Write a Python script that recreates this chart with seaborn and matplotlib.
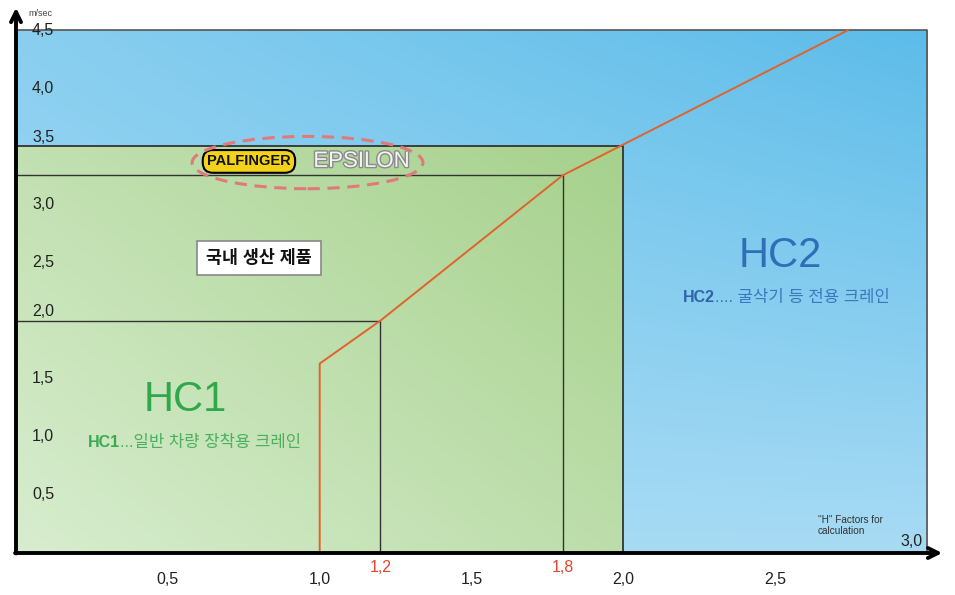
import numpy as np
import matplotlib
matplotlib.use("Agg")
import matplotlib.pyplot as plt
import seaborn as sns
from matplotlib.colors import LinearSegmentedColormap
from matplotlib.patches import Ellipse
import matplotlib.patheffects as pe

# data
x_ticks = [0.5, 1.0, 1.5, 2.0, 2.5, 3.0]
x_tick_labels = ["0,5", "1,0", "1,5", "2,0", "2,5", "3,0"]
y_ticks = [0.5, 1.0, 1.5, 2.0, 2.5, 3.0, 3.5, 4.0, 4.5]
y_tick_labels = ["0,5", "1,0", "1,5", "2,0", "2,5", "3,0", "3,5", "4,0", "4,5"]

hc2_box = (3.0, 4.5)        # whole H-factor field (x max, speed max)
epsilon_box = (2.0, 3.5)    # locally produced range
epsilon_inner = (1.8, 3.25)
hc1_box = (1.2, 2.0)

boundary_x = [1.0, 1.0, 1.2, 1.8, 2.74]
boundary_y = [0.0, 1.63, 2.0, 3.25, 4.5]
marked_x = [1.2, 1.8]
marked_labels = ["1,2", "1,8"]

sns.set_style("white")
plt.rcParams["font.family"] = ["Liberation Sans", "Noto Sans CJK KR", "DejaVu Sans"]

fig = plt.figure(figsize=(9.55, 5.95), dpi=100)
ax = fig.add_axes([16 / 955, 42 / 595, 929 / 955, 548 / 595])


def gradient_rect(x1, y1, c0, c1, z, wx, wy, wxy):
    g = np.linspace(0, 1, 200)
    gx, gy = np.meshgrid(g, g)
    shade = wx * gx + wy * gy + wxy * gx * gy
    cmap = LinearSegmentedColormap.from_list("g", [c0, c1])
    ax.imshow(shade, extent=(0, x1, 0, y1), origin="lower", cmap=cmap, vmin=0, vmax=1,
              aspect="auto", zorder=z, interpolation="bicubic")


gradient_rect(hc2_box[0], hc2_box[1], "#a8dbf4", "#5cbce9", 0, 0.0, 0.4, 0.6)
gradient_rect(epsilon_box[0], epsilon_box[1], "#d8edcf", "#a6d18c", 1, 0.55, 0.45, 0.0)

# box edges
ax.plot([0, hc2_box[0], hc2_box[0]], [hc2_box[1], hc2_box[1], 0], color="#555555", lw=1.2, zorder=3)
ax.plot([0, epsilon_box[0], epsilon_box[0]], [epsilon_box[1], epsilon_box[1], 0], color="#333333", lw=1.3, zorder=3)
ax.plot([0, epsilon_inner[0], epsilon_inner[0]], [epsilon_inner[1], epsilon_inner[1], 0], color="#333333", lw=1.0, zorder=3)
ax.plot([0, hc1_box[0], hc1_box[0]], [hc1_box[1], hc1_box[1], 0], color="#333333", lw=1.0, zorder=3)

# HC1 / HC2 boundary
sns.lineplot(x=boundary_x, y=boundary_y, sort=False, estimator=None, color="#e2622c",
             lw=1.4, ax=ax, zorder=4)

ax.set_xlim(0, 929 / 303.7)
ax.set_ylim(0, 548 / 116.2)
for s in ax.spines.values():
    s.set_visible(False)

ax.set_xticks(x_ticks)
ax.set_yticks(y_ticks)
ax.tick_params(axis="both", direction="inout", length=10, width=1.3, color="#e0603a",
               labelbottom=False, labelleft=False)
ax.grid(False)

# axes with arrows
ax.annotate("", xy=(1, 0), xytext=(-0.004, 0), xycoords="axes fraction",
            arrowprops=dict(arrowstyle="->", lw=2.8, color="black", mutation_scale=18), zorder=6,
            annotation_clip=False)
ax.annotate("", xy=(0, 1), xytext=(0, -0.006), xycoords="axes fraction",
            arrowprops=dict(arrowstyle="->", lw=2.8, color="black", mutation_scale=18), zorder=6,
            annotation_clip=False)

# tick labels
for v, lbl in zip(y_ticks, y_tick_labels):
    dy = 9 if v in (epsilon_box[1], hc1_box[1]) else 0
    ax.annotate(lbl, xy=(0, v), xytext=(16, dy), textcoords="offset pixels", ha="left",
                va="center", fontsize=11.5, color="#222222", zorder=7)
for v, lbl in zip(x_ticks, x_tick_labels):
    if v == 3.0:
        ax.annotate(lbl, xy=(v, 0), xytext=(-16, 11), textcoords="offset pixels", ha="center",
                    va="center", fontsize=11.5, color="#222222", zorder=7)
    else:
        ax.annotate(lbl, xy=(v, 0), xytext=(0, -27), textcoords="offset pixels", ha="center",
                    va="center", fontsize=11.5, color="#222222", zorder=7)
for v, lbl in zip(marked_x, marked_labels):
    ax.annotate(lbl, xy=(v, 0), xytext=(0, -15), textcoords="offset pixels", ha="center",
                va="center", fontsize=11.5, color="#e0452a", zorder=7)

ax.annotate("m/sec", xy=(0, 1), xycoords="axes fraction", xytext=(12, -9),
            textcoords="offset pixels", fontsize=6.5, color="#444444", ha="left", va="center",
            annotation_clip=False)

# region labels
ax.text(0.557, 1.32, "HC1", fontsize=30, color="#2ea84a", ha="center", va="center", zorder=5)
t1 = ax.text(0.237, 0.91, "HC1", fontsize=11.5, fontweight="bold", color="#3aaa50",
             ha="left", va="baseline", zorder=5)
ax.annotate("...일반 차량 장착용 크레인", xy=(1, 0.91), xycoords=(t1, "data"), fontsize=12,
            color="#4caf5e", ha="left", va="baseline", zorder=5)

ax.text(2.516, 2.56, "HC2", fontsize=30, color="#2e6fb7", ha="center", va="center", zorder=5)
t2 = ax.text(2.196, 2.16, "HC2", fontsize=11.5, fontweight="bold", color="#2f62aa",
             ha="left", va="baseline", zorder=5)
ax.annotate(".... 굴삭기 등 전용 크레인", xy=(1, 2.16), xycoords=(t2, "data"), fontsize=12,
            color="#3a78bf", ha="left", va="baseline", zorder=5)

ax.text(0.80, 2.54, "국내 생산 제품", fontsize=12.5, fontweight="bold", color="#111111",
        ha="center", va="center", zorder=5,
        bbox=dict(boxstyle="square,pad=0.5", fc="white", ec="#888888", lw=1.2))

ax.text(2.64, 0.24, "\"H\" Factors for\ncalculation", fontsize=7.2, color="#333333",
        ha="left", va="center", linespacing=1.1, zorder=5)

# PALFINGER EPSILON logo
ax.text(0.767, 3.37, "PALFINGER", fontsize=10.5, fontweight="bold", color="#111111",
        ha="center", va="center", zorder=6,
        bbox=dict(boxstyle="round,pad=0.3,rounding_size=0.7", fc="#f3d21a", ec="black", lw=1.5))
ax.text(1.138, 3.37, "EPSILON", fontsize=16, color="#f4f4f4", ha="center", va="center", zorder=6,
        path_effects=[pe.withStroke(linewidth=2.0, foreground="#8a8a8a")])
ax.add_patch(Ellipse((0.96, 3.36), 0.76, 0.45, fill=False, ls=(0, (4, 2.5)), ec="#e07a7a",
                     lw=2.2, zorder=6))

fig.savefig("out.png", dpi=100)
